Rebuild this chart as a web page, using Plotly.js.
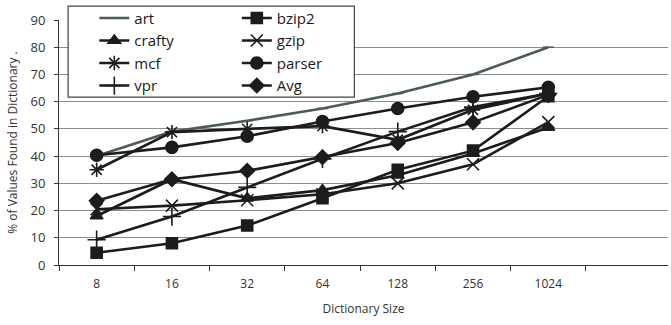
<!DOCTYPE html>
<html><head><meta charset="utf-8">
<script src="https://cdn.plot.ly/plotly-3.0.1.min.js"></script>
<style>html,body{margin:0;padding:0;background:#fff}#c{width:671px;height:325px}</style>
</head><body><div id="c"></div>
<script>
const sizes = ["8","16","32","64","128","256","1024"];
const art    = [40, 49, 53, 57.5, 63, 70, 80];
const bzip2  = [4.5, 8, 14.5, 24.5, 35, 42, 62];
const crafty = [18, 31.5, 24.5, 27.5, 33, 41, 50.5];
const gzip   = [20.5, 21.8, 23.8, 26, 30, 37, 52.5];
const mcf    = [35, 48.8, 50, 51, 46, 57, 63];
const parser = [40.3, 43.2, 47.3, 52.7, 57.5, 61.8, 65.3];
const vpr    = [9.3, 17.8, 28.5, 39, 49, 58, 63];
const avg    = [23.6, 31.5, 34.6, 39.6, 44.8, 52.4, 62.5];

const K = '#1c1c1c';
function tr(name, y, sym, size, legend, color, lw) {
  return {
    type: 'scatter', mode: 'lines+markers', name: name, x: sizes, y: y,
    line: {color: color || K, width: lw || 2.6},
    marker: {symbol: sym, size: size, color: color || K, line: {color: color || K, width: 1.6}},
    legend: legend
  };
}
const data = [
  tr('art', art, 'line-ew-open', 8, 'legend', '#4d5a5a', 2.6),
  tr('crafty', crafty, 'triangle-up', 11, 'legend'),
  tr('mcf', mcf, 'asterisk-open', 12, 'legend'),
  tr('vpr', vpr, 'cross-thin-open', 13, 'legend'),
  tr('bzip2', bzip2, 'square', 11, 'legend2'),
  tr('gzip', gzip, 'x-thin-open', 12, 'legend2'),
  tr('parser', parser, 'circle', 12, 'legend2'),
  tr('Avg', avg, 'diamond', 11, 'legend2')
];
const FF = 'Open Sans, sans-serif';
const lfont = {family: FF, size: 15, color: '#1a1a1a'};
const layout = {
  width: 671, height: 325,
  margin: {l: 59, r: 3, t: 19, b: 60},
  paper_bgcolor: '#fff', plot_bgcolor: '#fff',
  font: {family: FF, size: 12, color: '#333'},
  showlegend: true,
  xaxis: {
    type: 'category', range: [-0.5, 7.59],
    tickson: 'boundaries', ticks: 'outside', ticklen: 5, tickcolor: '#333',
    showline: true, linecolor: '#333', linewidth: 1,
    showgrid: false, zeroline: false, ticklabelstandoff: 8,
    tickfont: {family: FF, size: 12, color: '#333'},
    title: {text: 'Dictionary Size', font: {family: FF, size: 12, color: '#333'}, standoff: 13}
  },
  yaxis: {
    range: [0, 90], dtick: 10, ticks: 'outside', ticklen: 4, tickcolor: '#333',
    showline: true, linecolor: '#333', linewidth: 1,
    showgrid: true, gridcolor: '#8c8c8c', gridwidth: 1, zeroline: false, ticklabelstandoff: 6,
    tickfont: {family: FF, size: 13, color: '#333'},
    title: {text: '% of Values Found in Dictionary .', font: {family: FF, size: 12, color: '#333'}, standoff: 10}
  },
  legend: {x: 0.058, xanchor: 'left', y: 1.07, yanchor: 'top', bgcolor: 'rgba(0,0,0,0)', borderwidth: 0, font: lfont, traceorder: 'normal', tracegroupgap: 0},
  legend2: {x: 0.292, xanchor: 'left', y: 1.07, yanchor: 'top', bgcolor: 'rgba(0,0,0,0)', borderwidth: 0, font: lfont, traceorder: 'normal', tracegroupgap: 0},
  shapes: [{type: 'rect', xref: 'paper', yref: 'paper', x0: 0.015, x1: 0.485, y0: 0.685, y1: 1.057,
    line: {color: '#444', width: 1.2}, fillcolor: '#fff', layer: 'above'}]
};
Plotly.newPlot('c', data, layout, {displayModeBar: false, staticPlot: true});
</script></body></html>
